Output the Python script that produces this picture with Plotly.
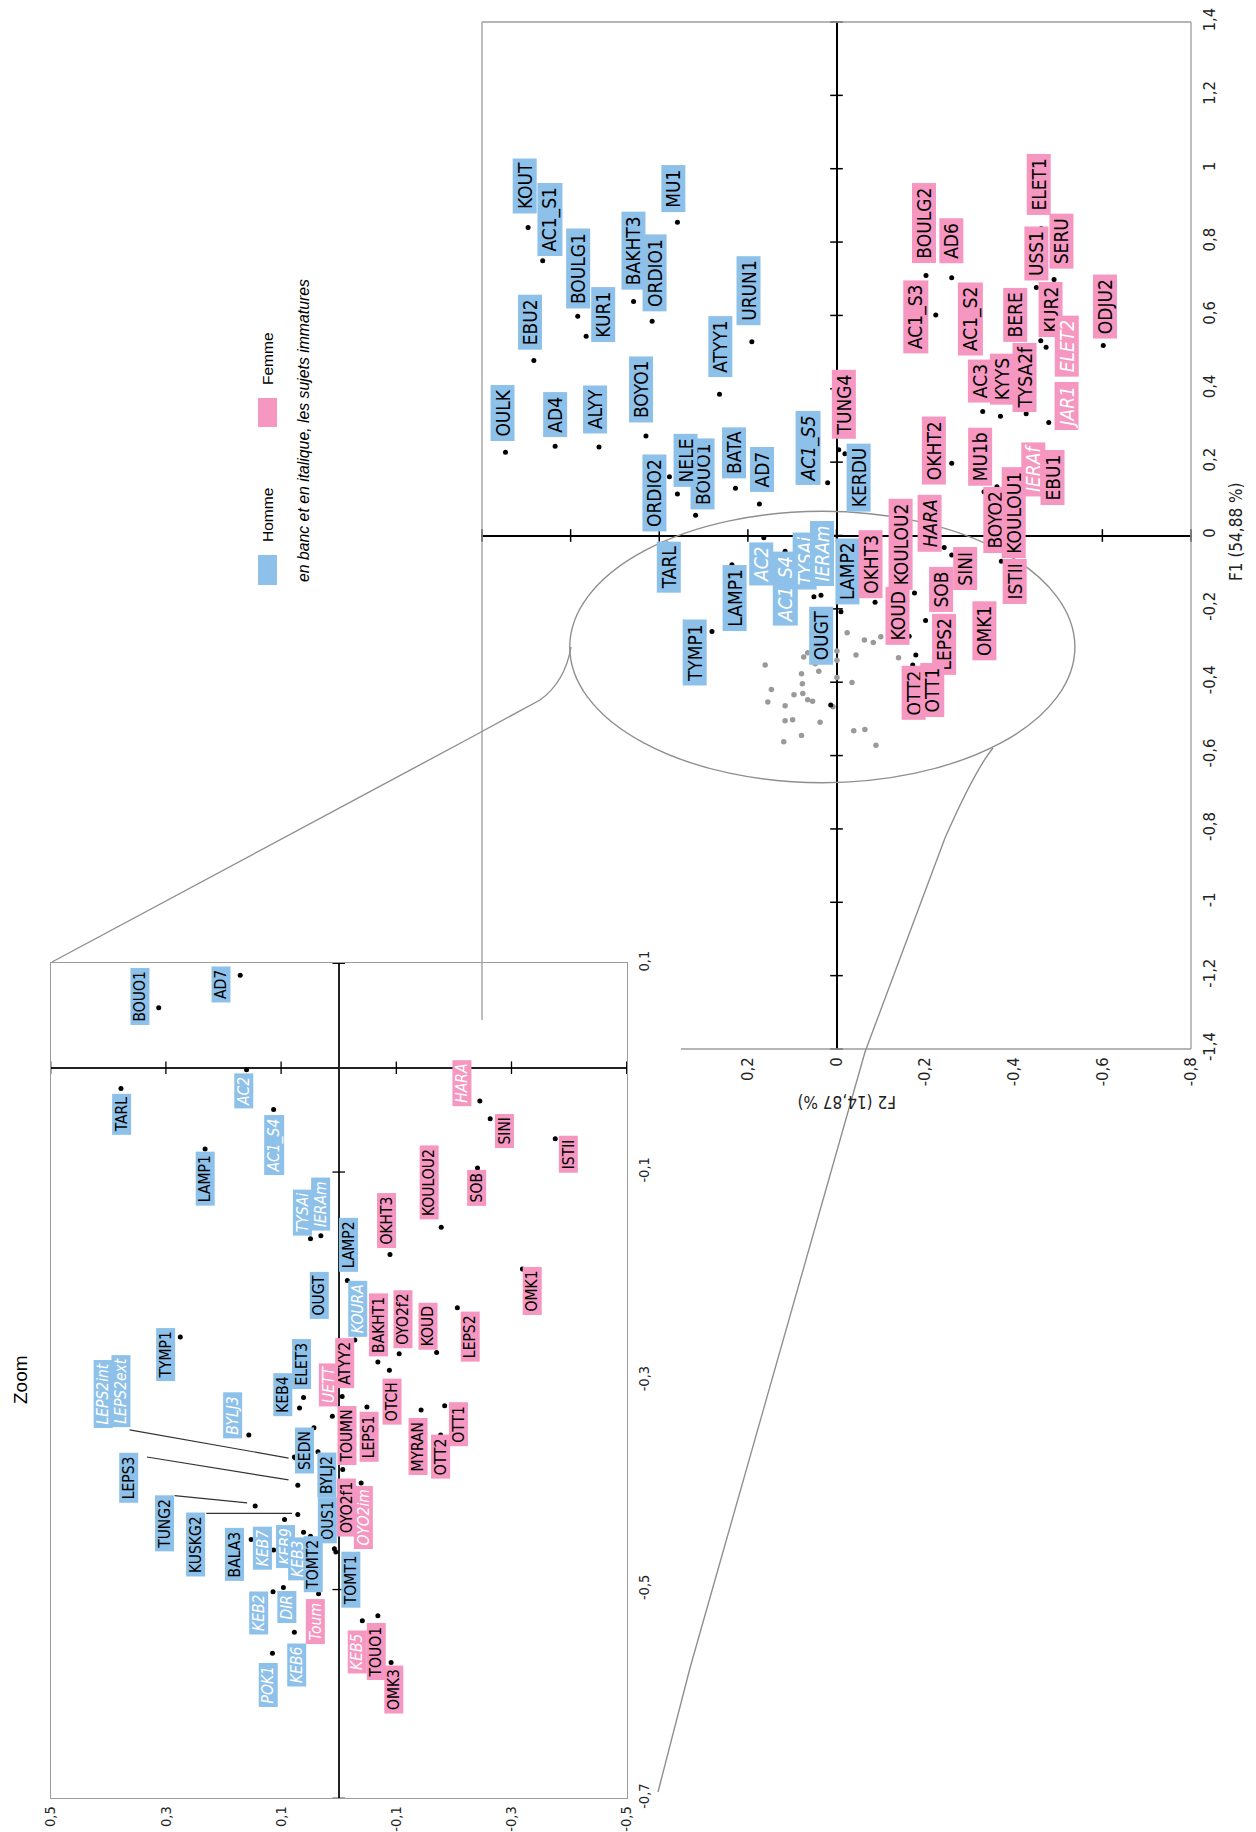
import plotly.graph_objects as go

W, H = 1256, 1832
OFF = 8  # page offset of the plot inside the browser page
BLUE = "#8EC1E9"
PINK = "#F597C0"
NARROW = "Liberation Sans Narrow, Arial Narrow, DejaVu Sans Condensed, sans-serif"
REG = "Liberation Sans, Arial, sans-serif"

# ---------------- main plot data (F1 vertical, F2 horizontal) ----------------
main_names = ["KOUT", "AC1_S1", "BOULG1", "KUR1", "EBU2", "BAKHT3", "ORDIO1", "MU1", "URUN1", "ATYY1",
              "OULK", "AD4", "ALYY", "BOYO1", "ORDIO2", "BOUO1", "NELE", "BATA", "AD7", "AC1_S5",
              "TUNG4", "KERDU", "TARL", "AC2", "LAMP1", "AC1_S4", "TYSAi", "IERAm", "OUGT", "LAMP2",
              "TYMP1", "OKHT3", "KOULOU2", "HARA", "SINI", "SOB", "KOUD", "LEPS2", "OMK1", "ISTII",
              "OTT2", "OTT1", "BOYO2", "KOULOU1", "MU1b", "OKHT2", "IERAf", "EBU1", "BOULG2", "AD6",
              "AC1_S3", "AC1_S2", "AC3", "KYYS", "TYSA2f", "BERE", "KUR2", "ELET2", "JAR1", "USS1",
              "ELET1", "SERU", "ODJU2"]
main_f1 = [0.840, 0.749, 0.598, 0.543, 0.477, 0.638, 0.584, 0.854, 0.528, 0.385,
           0.227, 0.243, 0.241, 0.271, 0.160, 0.055, 0.113, 0.129, 0.086, 0.144,
           0.234, 0.223, -0.023, -0.006, -0.080, -0.043, -0.167, -0.163, -0.202, -0.208,
           -0.262, -0.182, -0.157, -0.033, -0.053, -0.096, -0.275, -0.232, -0.197, -0.070,
           -0.353, -0.326, 0.119, 0.133, 0.166, 0.197, 0.237, 0.230, 0.709, 0.703,
           0.601, 0.467, 0.338, 0.325, 0.332, 0.498, 0.531, 0.513, 0.308, 0.676,
           0.837, 0.698, 0.518]
main_f2 = [0.696, 0.663, 0.584, 0.565, 0.683, 0.458, 0.416, 0.359, 0.191, 0.264,
           0.747, 0.635, 0.536, 0.430, 0.377, 0.318, 0.359, 0.228, 0.174, 0.020,
           -0.005, -0.019, 0.382, 0.164, 0.236, 0.116, 0.051, 0.035, 0.038, -0.010,
           0.281, -0.087, -0.176, -0.243, -0.260, -0.237, -0.164, -0.201, -0.319, -0.372,
           -0.172, -0.179, -0.333, -0.362, -0.381, -0.260, -0.454, -0.465, -0.202, -0.260,
           -0.224, -0.306, -0.330, -0.370, -0.428, -0.405, -0.461, -0.473, -0.479, -0.451,
           -0.462, -0.491, -0.602]
main_sex = ["H"] * 20 + ["F"] + ["H"] * 10 + ["F"] * 32
# n = normal, w = immature (white italic), i = immature (black italic)
main_style = ["n"] * 19 + ["i", "n", "n", "n", "w", "n", "w", "w", "w", "n", "n",
                          "n", "n", "n", "i", "n", "n", "n", "n", "n", "n",
                          "n", "n", "n", "n", "n", "n", "w", "n", "n", "n",
                          "n", "n", "n", "n", "n", "n", "n", "w", "w", "n",
                          "n", "n", "n"]
# label offsets in screen pixels (right, down)
main_label_dx = [-3, 7, 0.6, 17, -4, 0, 2.3, -3.7, -3, 0.7,
                 -2.7, 0, -3.7, -4.7, -15, 7.4, 8.3, -1.3, 2.6, -19.4,
                 5.6, 13.7, 1.5, -3, 2.4, 0.6, -9.3, 1, 1.3, 7,
                 -17.4, -4.7, -13.8, -14.5, 13.4, 0, -12, 18.4, 7, 13.5,
                 1, 16.3, 11.6, 16.5, -25.4, -18, -4.3, 9.7, -2, -0.4,
                 -20.4, -1.4, -3, 1.3, -1.4, -0.4, 10, 20.6, 18, -0.4,
                 -2.4, 7, 2]
main_label_dy = [-41, -41.5, -48, -21.4, -38.7, -50.4, -48.4, -33.9, -51.5, -47.4,
                 -39, -31.4, -37.9, -46.9, 16.2, -41.9, -33.9, -35, -34, -35,
                 -45.2, 24.3, 23, 25.9, 32.9, 37.6, -35.8, -42.3, 26.2, -40.3,
                 21.3, -38.4, -49, -24.5, 14, 18.7, -20.7, 23.3, 22.7, 20,
                 28.1, 34.8, 28.5, 26, -17.8, -12.4, 20.5, 26.6, -52.4, -36.7,
                 2, -45.4, -30.7, -37.4, -36.5, -37.5, -31.5, -1.4, -16.3, -34,
                 -44.4, -37.9, -39.2]

main_extra_f1 = [-0.462]
main_extra_f2 = [0.013]

# grey points = individuals shown in the zoom
grey_f1 = [-0.265, -0.285, -0.292, -0.276, -0.315, -0.320, -0.331, -0.336, -0.340, -0.326,
           -0.333, -0.353, -0.350, -0.370, -0.377, -0.387, -0.401, -0.404, -0.420, -0.434,
           -0.431, -0.448, -0.452, -0.454, -0.464, -0.467, -0.505, -0.502, -0.509, -0.545,
           -0.562, -0.532, -0.529, -0.572]
grey_f2 = [-0.024, -0.063, -0.083, -0.100, -0.001, 0.065, 0.074, 0.015, -0.001, -0.044,
           -0.140, 0.161, 0.048, 0.040, 0.079, -0.001, -0.035, 0.077, 0.147, 0.096,
           0.076, 0.065, 0.054, 0.155, 0.116, 0.008, 0.116, 0.099, 0.037, 0.079,
           0.119, -0.039, -0.064, -0.089]

# ---------------- zoom data ----------------
zoom_names = ["BOUO1", "AD7", "TARL", "AC2", "AC1_S4", "LAMP1", "TYSAi", "IERAm", "LAMP2", "OUGT",
              "KOURA", "TYMP1", "HARA", "SINI", "ISTII", "SOB", "KOULOU2", "OKHT3", "OMK1", "LEPS2",
              "BAKHT1", "OYO2f2", "KOUD", "ATYY2", "UETT", "ELET3", "KEB4", "BYLJ3", "SEDN", "TOUMN",
              "LEPS1", "OTCH", "MYRAN", "OTT2", "OTT1", "BYLJ2", "OUS1", "OYO2f1", "OYO2im", "TOMT1",
              "KEB5", "TOUO1", "OMK3", "LEPS2int", "LEPS2ext", "LEPS3", "TUNG2", "KUSKG2", "BALA3", "KEB7",
              "KEB9", "KEB3", "TOMT2", "KEB2", "DIR", "Toum", "KEB6", "POK1"]
zoom_f1 = [0.0575, 0.0885, -0.020, -0.002, -0.040, -0.078, -0.164, -0.161, -0.204, -0.203,
           -0.261, -0.258, -0.032, -0.049, -0.068, -0.096, -0.153, -0.179, -0.193, -0.230,
           -0.282, -0.274, -0.273, -0.315, -0.334, -0.316, -0.326, -0.352, -0.345, -0.357,
           -0.325, -0.290, -0.328, -0.352, -0.324, -0.368, -0.461, -0.385, -0.398, -0.464,
           -0.530, -0.525, -0.570, -0.373, -0.374, -0.400, -0.420, -0.428, -0.452, -0.462,
           -0.433, -0.445, -0.449, -0.502, -0.498, -0.504, -0.541, -0.561]
zoom_f2 = [0.3125, 0.171, 0.378, 0.160, 0.113, 0.232, 0.049, 0.031, -0.015, 0.035,
           -0.028, 0.275, -0.245, -0.263, -0.376, -0.241, -0.178, -0.089, -0.319, -0.206,
           -0.068, -0.105, -0.170, -0.006, 0.011, 0.061, 0.068, 0.156, 0.043, -0.014,
           -0.049, -0.088, -0.143, -0.177, -0.184, 0.036, 0.0075, -0.007, -0.039, 0.005,
           -0.041, -0.068, -0.091, 0.077, 0.075, 0.071, 0.145, 0.071, 0.152, 0.113,
           0.094, 0.061, 0.049, 0.114, 0.096, 0.035, 0.077, 0.115]
zoom_sex = ["H"] * 12 + ["F"] * 13 + ["H"] * 4 + ["F"] * 6 + ["H", "H", "F", "F", "H",
            "F", "F", "F"] + ["H"] * 12 + ["F", "H", "H"]
zoom_style = ["n", "n", "n", "w", "w", "n", "w", "w", "n", "n",
              "w", "n", "w", "n", "n", "n", "n", "n", "n", "n",
              "n", "n", "n", "n", "w", "n", "n", "w", "n", "n",
              "n", "n", "n", "n", "n", "n", "n", "n", "w", "n",
              "w", "n", "n", "w", "w", "n", "n", "n", "n", "w",
              "w", "w", "n", "w", "w", "w", "w", "w"]
zoom_label_dx = [-19, -19.7, 1, -2.7, 1, 0.6, -7.7, 0, 1.6, 0.3,
                 3.2, -14.2, -18, 14.3, 13, -1, -11.7, -3.4, 9.4, 13.3,
                 0.3, 4.2, -8.5, 2.5, -4.2, -2, -16.3, -16.6, -9.2, 0,
                 1.8, 2.7, -3.3, 0.2, 13.9, 8.5, -6.8, 3.5, 1.8, 15.2,
                 -5.2, -1.5, 2.8, -191.5, -174.2, -168.8, -90.5, -102, -16.2, -10.8,
                 0.5, -5.8, 2.5, -14.2, 3.3, -3.1, 2.5, -4.1]
zoom_label_dy = [-11.4, 9.7, 25.3, 20.8, 36, 29.9, -26, -32, -35.7, 15.5,
                 -31.3, 18, -17.7, 11.7, 15.8, 20.5, -44.5, -34, 22, 29.2,
                 -36.8, -34.8, -26, -33, -31, -33, -13, -20, 23, -5,
                 30.2, 31.2, 36.2, 21.7, 18.8, 23.3, -28.1, 37.8, 34, 27.7,
                 31.5, 36, 27, -62.8, -67.2, -7.4, 17.6, 30.3, 14.5, -2,
                 27.4, 26.5, 27.9, 21, 19.9, 27.9, 32.3, 31.4]

# leader lines of the zoom (label side -> point side)
lead_from_f2 = [0.363, 0.333, 0.285, 0.230]
lead_from_f1 = [-0.347, -0.373, -0.410, -0.427]
lead_to_f2 = [0.087, 0.087, 0.159, 0.081]
lead_to_f1 = [-0.374, -0.395, -0.417, -0.427]

# ---------------- ticks ----------------
main_f1_ticks = [1.4, 1.2, 1.0, 0.8, 0.6, 0.4, 0.2, 0.0, -0.2, -0.4, -0.6, -0.8, -1.0, -1.2, -1.4]
main_f1_text = ["1,4", "1,2", "1", "0,8", "0,6", "0,4", "0,2", "0", "-0,2", "-0,4", "-0,6", "-0,8",
                "-1", "-1,2", "-1,4"]
main_f2_ticks = [0.2, 0.0, -0.2, -0.4, -0.6, -0.8]
main_f2_text = ["0,2", "0", "-0,2", "-0,4", "-0,6", "-0,8"]
main_f2_marks = [0.8, 0.6, 0.4, 0.2, 0.0, -0.2, -0.4, -0.6, -0.8]
zoom_f2_ticks = [0.5, 0.3, 0.1, -0.1, -0.3, -0.5]
zoom_f2_text = ["0,5", "0,3", "0,1", "-0,1", "-0,3", "-0,5"]
zoom_f1_ticks = [0.1, -0.1, -0.3, -0.5, -0.7]
zoom_f1_text = ["0,1", "-0,1", "-0,3", "-0,5", "-0,7"]

# ---------------- layout geometry (screen pixels) ----------------
MX0, MX1, MY0, MY1 = 482, 1191, 22, 1049      # main plot box
ZX0, ZX1, ZY0, ZY1 = 50.7, 626.7, 963.3, 1798.3  # zoom box


def px(x):
    return (x - OFF) / W


def py(y):
    return 1 - (y - OFF) / H


fig = go.Figure()

# tick marks on the axes through the origin
fig.add_trace(go.Scatter(x=[0] * len(main_f1_ticks), y=main_f1_ticks, mode="markers",
                         marker=dict(symbol="line-ew", size=9, line=dict(color="black", width=1.5)),
                         xaxis="x", yaxis="y", cliponaxis=False, hoverinfo="skip"))
fig.add_trace(go.Scatter(x=main_f2_marks, y=[0] * len(main_f2_marks), mode="markers",
                         marker=dict(symbol="line-ns", size=9, line=dict(color="black", width=1.5)),
                         xaxis="x", yaxis="y", cliponaxis=False, hoverinfo="skip"))
fig.add_trace(go.Scatter(x=[0] * len(zoom_f1_ticks), y=zoom_f1_ticks, mode="markers",
                         marker=dict(symbol="line-ew", size=9, line=dict(color="black", width=1.3)),
                         xaxis="x2", yaxis="y2", cliponaxis=False, hoverinfo="skip"))
fig.add_trace(go.Scatter(x=zoom_f2_ticks, y=[0] * len(zoom_f2_ticks), mode="markers",
                         marker=dict(symbol="line-ns", size=9, line=dict(color="black", width=1.3)),
                         xaxis="x2", yaxis="y2", cliponaxis=False, hoverinfo="skip"))

# grey points (zoomed individuals) in main plot
fig.add_trace(go.Scatter(x=grey_f2, y=grey_f1, mode="markers",
                         marker=dict(color="#9a9a9a", size=5.5), xaxis="x", yaxis="y", hoverinfo="skip"))
# black points
fig.add_trace(go.Scatter(x=main_f2 + main_extra_f2, y=main_f1 + main_extra_f1, mode="markers",
                         marker=dict(color="black", size=5), xaxis="x", yaxis="y",
                         cliponaxis=False, hoverinfo="skip"))
fig.add_trace(go.Scatter(x=zoom_f2, y=zoom_f1, mode="markers",
                         marker=dict(color="black", size=5), xaxis="x2", yaxis="y2",
                         cliponaxis=False, hoverinfo="skip"))
# leader lines
for a, b, c, d in zip(lead_from_f2, lead_from_f1, lead_to_f2, lead_to_f1):
    fig.add_trace(go.Scatter(x=[a, c], y=[b, d], mode="lines", line=dict(color="#333333", width=1.2),
                             xaxis="x2", yaxis="y2", hoverinfo="skip"))

annotations = []


def label(name, f1, f2, sex, style, dx, dy, xr, yr, size, pad, sp):
    color = "white" if style == "w" else "black"
    fstyle = "normal" if style == "n" else "italic"
    annotations.append(dict(
        x=f2, y=f1, xref=xr, yref=yr, text=sp + name + sp, showarrow=False,
        xanchor="center", yanchor="middle",
        xshift=dx, yshift=-dy, textangle=-90, bgcolor=BLUE if sex == "H" else PINK,
        borderwidth=0, borderpad=pad,
        font=dict(family=NARROW, size=size, color=color, style=fstyle)))


for i in range(len(main_names)):
    label(main_names[i], main_f1[i], main_f2[i], main_sex[i], main_style[i],
          main_label_dx[i], main_label_dy[i], "x", "y", 19, 1, "\u2009")
for i in range(len(zoom_names)):
    label(zoom_names[i], zoom_f1[i], zoom_f2[i], zoom_sex[i], zoom_style[i],
          zoom_label_dx[i], zoom_label_dy[i], "x2", "y2", 15.5, 0.7, "\u2009")


def text_at(x, y, txt, angle, font):
    annotations.append(dict(x=px(x), y=py(y), xref="paper", yref="paper", text=txt, showarrow=False,
                            xanchor="center", yanchor="middle", textangle=angle, font=font))


# axis titles
text_at(1236, 532, "F1 (54,88 %)", -90, dict(family=NARROW, size=17, color="#222"))
text_at(847, 1102, "F2 (14,87 %)", 180, dict(family=NARROW, size=17, color="#222"))
text_at(20, 1380, "Zoom", -90, dict(family=REG, size=19, color="black"))
# legend texts
text_at(267, 515, "Homme", -90, dict(family=REG, size=15.5, color="black"))
text_at(267, 359, "Femme", -90, dict(family=REG, size=15.5, color="black"))
text_at(303, 431, "en banc et en italique, les sujets immatures", -90,
        dict(family=REG, size=15.8, color="black", style="italic"))

GREY = "#9c9c9c"
shapes = [
    # main plot frame (partly hidden behind the zoom)
    dict(type="line", xref="paper", yref="paper", x0=px(MX0), y0=py(MY0), x1=px(MX1), y1=py(MY0),
         line=dict(color=GREY, width=1.3)),
    dict(type="line", xref="paper", yref="paper", x0=px(MX1), y0=py(MY0), x1=px(MX1), y1=py(MY1),
         line=dict(color=GREY, width=1.3)),
    dict(type="line", xref="paper", yref="paper", x0=px(681), y0=py(MY1), x1=px(MX1), y1=py(MY1),
         line=dict(color=GREY, width=1.3)),
    dict(type="line", xref="paper", yref="paper", x0=px(MX0), y0=py(MY0), x1=px(MX0), y1=py(1020),
         line=dict(color=GREY, width=1.3)),
    # ellipse around the zoomed area
    dict(type="circle", xref="x", yref="y", x0=0.602, x1=-0.538, y0=0.066, y1=-0.674,
         line=dict(color="#8f8f8f", width=1.4)),
    # connectors to the zoom
    dict(type="path", xref="paper", yref="paper",
         path="M {} {} Q {} {} {} {} L {} {} L {} {}".format(px(571), py(647), px(565), py(682), px(540), py(700),
                                                          px(470), py(738), px(52), py(962)),
         line=dict(color="#8f8f8f", width=1.4)),
    dict(type="path", xref="paper", yref="paper",
         path="M {} {} Q {} {} {} {} L {} {} L {} {} L {} {}".format(px(993), py(748), px(975), py(770), px(945), py(838),
                                                                  px(865), py(1052), px(690), py(1668), px(658), py(1792)),
         line=dict(color="#8f8f8f", width=1.4)),
    # legend squares
    dict(type="rect", xref="paper", yref="paper", x0=px(258), x1=px(277), y0=py(555), y1=py(585),
         fillcolor=BLUE, line=dict(width=0)),
    dict(type="rect", xref="paper", yref="paper", x0=px(258), x1=px(277), y0=py(398), y1=py(427),
         fillcolor=PINK, line=dict(width=0)),
]

tickfont_main = dict(family=NARROW, size=16.5, color="#222")
tickfont_zoom = dict(family=NARROW, size=14.5, color="#222")

fig.update_layout(
    template="none",
    width=W, height=H, margin=dict(l=0, r=0, t=0, b=0, pad=0, autoexpand=False),
    paper_bgcolor="white", plot_bgcolor="rgba(0,0,0,0)", showlegend=False,
    annotations=annotations, shapes=shapes,
    xaxis=dict(domain=[px(MX0), px(MX1)], range=[0.8, -0.8], anchor="y", showgrid=False, automargin=False,
               zeroline=True, zerolinecolor="black", zerolinewidth=1.8, showline=False,
               tickvals=main_f2_ticks, ticktext=main_f2_text, tickangle=-90, ticks="",
               tickfont=tickfont_main, ticklabelstandoff=4, ticklabeloverflow="allow"),
    yaxis=dict(domain=[py(MY1), py(MY0)], range=[-1.4, 1.4], anchor="x", side="right", showgrid=False,
               automargin=False,
               zeroline=True, zerolinecolor="black", zerolinewidth=1.8, showline=False,
               tickvals=main_f1_ticks, ticktext=main_f1_text, tickangle=-90, ticks="",
               tickfont=tickfont_main, ticklabelstandoff=6, ticklabeloverflow="allow"),
    xaxis2=dict(domain=[px(ZX0), px(ZX1)], range=[0.5, -0.5], anchor="y2", showgrid=False, automargin=False,
                zeroline=True, zerolinecolor="#222", zerolinewidth=1.5, showline=True, mirror=True,
                linecolor=GREY, linewidth=1.3,
                tickvals=zoom_f2_ticks, ticktext=zoom_f2_text, tickangle=-90, ticks="",
                tickfont=tickfont_zoom, ticklabelstandoff=1, ticklabeloverflow="allow"),
    yaxis2=dict(domain=[py(ZY1), py(ZY0)], range=[-0.7, 0.1], anchor="x2", side="right", showgrid=False,
                automargin=False,
                zeroline=True, zerolinecolor="#222", zerolinewidth=1.5, showline=True, mirror=True,
                linecolor=GREY, linewidth=1.3,
                tickvals=zoom_f1_ticks, ticktext=zoom_f1_text, tickangle=-90, ticks="",
                tickfont=tickfont_zoom, ticklabelstandoff=4, ticklabeloverflow="allow"),
)

fig.write_html("out.html")
